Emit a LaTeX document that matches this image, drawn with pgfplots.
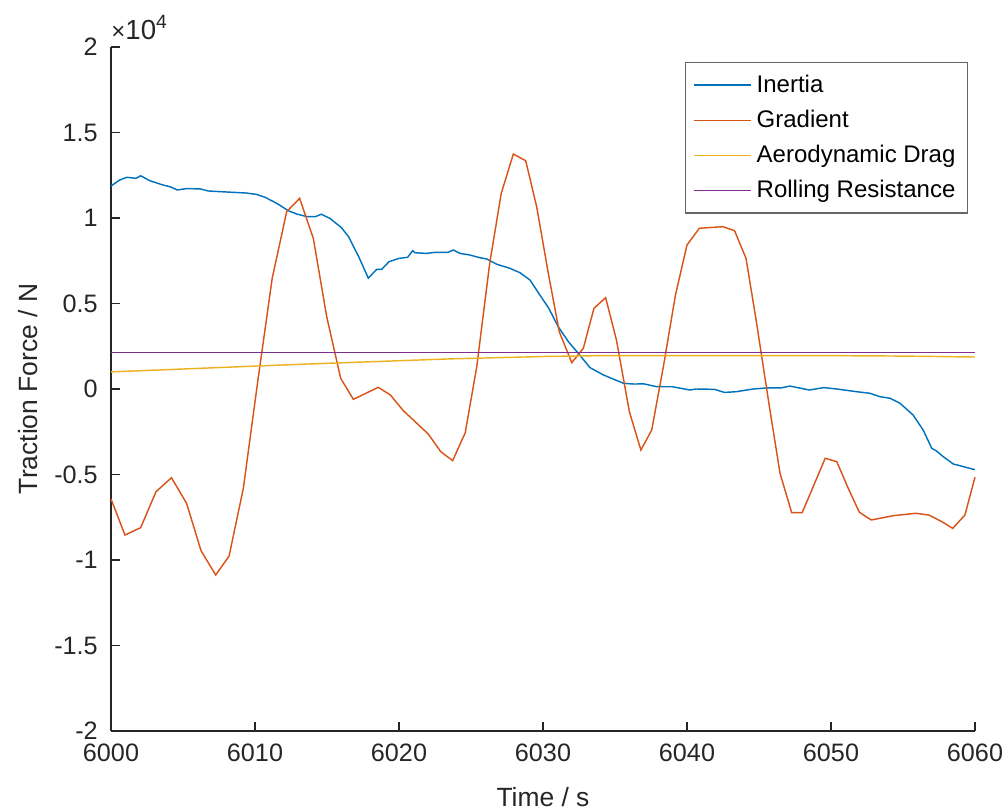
\documentclass[border=0pt]{standalone}
\usepackage{fontspec}
\setmainfont{Liberation Sans}
\usepackage{pgfplots}
\pgfplotsset{compat=1.18}
\definecolor{mblue}{rgb}{0,0.447,0.741}
\definecolor{morange}{rgb}{0.85,0.325,0.098}
\definecolor{myellow}{rgb}{0.929,0.694,0.125}
\definecolor{mpurple}{rgb}{0.494,0.184,0.556}
\definecolor{axgray}{HTML}{262626}
\begin{document}
\begin{tikzpicture}
\begin{axis}[
  at={(0,0)}, anchor=south west,
  scale only axis, width=360pt, height=285pt,
  xmin=6000, xmax=6060, ymin=-20000, ymax=20000,
  axis x line*=bottom, axis y line*=left,
  axis line style={axgray, line width=0.6pt},
  tick style={axgray, line width=0.6pt},
  tick align=inside, major tick length=3.75pt,
  xtick={6000,6010,6020,6030,6040,6050,6060},
  xticklabels={6000,6010,6020,6030,6040,6050,6060},
  ytick={-20000,-15000,-10000,-5000,0,5000,10000,15000,20000},
  yticklabels={-2,-1.5,-1,-0.5,0,0.5,1,1.5,2},
  scaled y ticks=false,
  ticklabel style={font=\fontsize{10.5}{12}\selectfont, text=axgray},
  xticklabel style={yshift=-2pt},
  yticklabel style={xshift=-2pt},
  xlabel={Time / s}, ylabel={Traction Force / N},
  label style={font=\fontsize{11}{13}\selectfont, text=axgray},
  xlabel style={at={(axis description cs:0.5,0)}, anchor=center, yshift=-27.5pt},
  ylabel style={at={(axis description cs:0,0.5)}, anchor=center, yshift=34.5pt},
  legend style={at={(0.992,0.978)}, anchor=north east, draw=gray!80!black,
    line width=0.5pt, font=\fontsize{10}{12}\selectfont, row sep=1.9pt,
    inner xsep=3pt, inner ysep=3pt},
  legend cell align=left,
  legend image code/.code={\draw[#1] (0pt,0pt) -- (24pt,0pt);},
  every axis plot/.append style={line width=0.6pt},
  clip=false,
]
\addplot[mblue] coordinates {
(6000,11870) (6000.6,12220) (6001.1,12380) (6001.74,12320) (6002.06,12470)
(6002.7,12180) (6003.6,11930) (6004.1,11830) (6004.6,11640) (6005.25,11720)
(6006.2,11700) (6006.76,11580) (6007.57,11540) (6008.5,11500) (6009.4,11460)
(6010.1,11380) (6010.7,11210) (6011.3,10950) (6011.7,10760) (6012.3,10430)
(6012.9,10230) (6013.6,10080) (6014.2,10080) (6014.6,10220) (6015.2,9980)
(6016.0,9440) (6016.5,8900) (6017.2,7740) (6017.87,6480) (6018.45,7000)
(6018.8,7000) (6019.3,7440) (6020.0,7640) (6020.6,7700) (6020.95,8090)
(6021.1,7970) (6021.9,7930) (6022.5,7990) (6023.4,7990) (6023.77,8130)
(6024.24,7930) (6024.9,7840) (6025.6,7680) (6026.1,7600) (6026.8,7290)
(6027.7,7060) (6028.4,6800) (6029.1,6370) (6029.7,5600) (6030.4,4720)
(6031.06,3640) (6031.76,2770) (6032.45,2090) (6033.26,1250) (6034.2,820)
(6035.6,330) (6036.3,290) (6037.0,300) (6037.9,135) (6039.0,130)
(6040.2,-60) (6040.6,0) (6041.9,-20) (6042.6,-200) (6043.4,-160)
(6044.6,0) (6045.5,60) (6046.5,60) (6047.15,170) (6048.5,-60)
(6049.5,80) (6050.4,0) (6051.8,-160) (6052.7,-250) (6053.4,-450)
(6054.1,-540) (6054.8,-840) (6055.7,-1520) (6056.4,-2400) (6057.0,-3470)
(6057.3,-3610) (6057.8,-3960) (6058.5,-4390) (6059.2,-4540) (6059.9,-4700)
(6060,-4700)
};
\addlegendentry{Inertia}
\addplot[morange] coordinates {
(6000,-6430) (6000.97,-8540) (6002.06,-8110) (6003.13,-6000) (6004.2,-5190)
(6005.25,-6690) (6006.25,-9450) (6007.27,-10880) (6008.2,-9770) (6009.19,-5810)
(6010.2,500) (6011.2,6500) (6012.2,10370) (6013.1,11150) (6014.05,8810)
(6014.98,4230) (6015.95,625) (6016.83,-605) (6018.56,98) (6019.4,-350)
(6020.3,-1267) (6022.03,-2631) (6022.9,-3665) (6023.73,-4190) (6024.6,-2553)
(6025.4,1300) (6026.3,7350) (6027.1,11440) (6027.94,13740) (6028.8,13350)
(6029.56,10660) (6030.37,6760) (6031.13,3350) (6032.0,1540) (6032.8,2380)
(6033.54,4720) (6034.35,5340) (6035.1,2870) (6036.0,-1330) (6036.8,-3570)
(6037.55,-2400) (6038.36,1310) (6039.2,5500) (6040.0,8420) (6040.86,9400)
(6042.5,9490) (6043.3,9260) (6044.1,7640) (6044.8,4030) (6045.76,-1230)
(6046.46,-4930) (6047.27,-7230) (6048.0,-7230) (6049.6,-4050) (6050.4,-4250)
(6051.2,-5810) (6051.97,-7210) (6052.8,-7660) (6054.3,-7410) (6055.9,-7270)
(6056.8,-7370) (6057.7,-7760) (6058.45,-8150) (6059.3,-7370) (6060,-5160)
};
\addlegendentry{Gradient}
\addplot[myellow] coordinates {
(6000,1000) (6013,1440) (6023.5,1760) (6030,1900) (6034,1950) (6050,1950) (6055,1925) (6060,1870)
};
\addlegendentry{Aerodynamic Drag}
\addplot[mpurple] coordinates {(6000,2130) (6060,2130)};
\addlegendentry{Rolling Resistance}
\node[anchor=south west, inner sep=0pt, text=axgray, font=\fontsize{11.5}{13}\selectfont] at (rel axis cs:0,1) [yshift=3pt] {{\fontsize{10}{12}\selectfont ×}10\textsuperscript{4}};
\end{axis}
\pgfresetboundingbox
\path[use as bounding box] (-46.25pt,-33.33pt) rectangle (373.75pt,304.58pt);
\end{tikzpicture}
\end{document}
